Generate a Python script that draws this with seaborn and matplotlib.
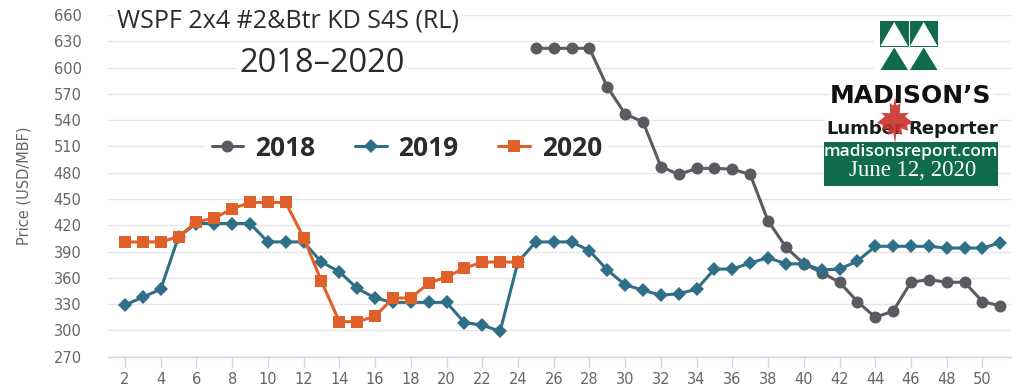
import matplotlib
matplotlib.use("Agg")
import matplotlib.pyplot as plt
from matplotlib.patches import Polygon, Rectangle
import seaborn as sns
import pandas as pd

# weekly prices, USD/MBF
weeks_2018 = list(range(25, 52))
price_2018 = [622, 622, 622, 622, 578, 547, 538, 487, 478, 485, 485, 484, 478,
              425, 395, 376, 366, 355, 333, 315, 322, 355, 358, 355, 355, 333, 328]
weeks_2019 = list(range(2, 52))
price_2019 = [329, 338, 347, 407, 422, 422, 422, 422, 401, 401, 401, 378, 367,
              348, 337, 332, 332, 332, 332, 309, 306, 299, 378, 401, 401, 401,
              391, 369, 352, 346, 340, 342, 347, 370, 370, 377, 383, 376, 376,
              369, 370, 379, 396, 396, 396, 396, 394, 394, 394, 400]
weeks_2020 = list(range(2, 25))
price_2020 = [401, 401, 401, 407, 424, 428, 439, 446, 446, 446, 406, 356, 310,
              310, 316, 337, 337, 354, 361, 371, 378, 378, 378]

x_ticks = list(range(2, 51, 2))
y_ticks = list(range(270, 661, 30))

series = [
    ("2018", weeks_2018, price_2018, "#5a5a61", "o", 8.6),
    ("2019", weeks_2019, price_2019, "#2f6f87", "D", 6.8),
    ("2020", weeks_2020, price_2020, "#e0602a", "s", 9.0),
]

sns.set_theme(style="white")
plt.rcParams['font.family'] = ['DejaVu Sans']

W, H = 1019, 390
fig = plt.figure(figsize=(W / 100, H / 100), dpi=100)
ax = fig.add_axes([108 / W, 1 - 356.7 / H, 903 / W, 341.7 / H])

for name, wk, pr, col, mk, ms in series:
    df = pd.DataFrame({"week": wk, "price": pr})
    sns.lineplot(data=df, x="week", y="price", ax=ax, color=col, marker=mk,
                 markersize=ms, markeredgewidth=0, linewidth=2.2, label=name,
                 legend=False)

ax.set_xlim(1.05, 51.6)
ax.set_ylim(270, 660)
ax.set_xticks(x_ticks)
ax.set_yticks(y_ticks)
ax.grid(axis="y", color="#e6e6e6", linewidth=1)
ax.set_axisbelow(True)
for s in ["top", "right", "left"]:
    ax.spines[s].set_visible(False)
ax.spines["bottom"].set_color("#ccd6eb")
ax.spines["bottom"].set_linewidth(1)
ax.tick_params(axis="x", length=7, width=1, color="#ccd6eb",
               labelcolor="#666666", labelsize=10.5, pad=4, bottom=True)
ax.tick_params(axis="y", length=0, labelsize=10.5, labelcolor="#666666", pad=19)
ax.set_xlabel("")
ax.set_ylabel("Price (USD/MBF)", fontsize=10.5, color="#666666", labelpad=16)

# legend
handles, labels = ax.get_legend_handles_labels()
leg = ax.legend(handles, labels, ncol=3, loc="center left",
                bbox_to_anchor=(205 / W, 1 - 148 / H),
                bbox_transform=fig.transFigure, frameon=True, fancybox=False,
                framealpha=1, edgecolor="none", facecolor="white",
                borderpad=0.25, borderaxespad=0, handlelength=1.2,
                handletextpad=0.45, columnspacing=1.5,
                prop={"family": "Open Sans", "weight": "bold", "size": 19})
for t in leg.get_texts():
    t.set_color("#2b2b2b")

# title
fig.text(117 / W, 1 - 21 / H, "WSPF 2x4 #2&Btr KD S4S (RL)", ha="left",
         va="center", fontsize=18, family="Open Sans", color="#2b2b2b",
         bbox=dict(facecolor="white", edgecolor="none", pad=2))
fig.text(322 / W, 1 - 64 / H, "2018\u20132020", ha="center", va="center",
         fontsize=23.5, family="Open Sans", color="#2b2b2b",
         bbox=dict(facecolor="white", edgecolor="none", pad=2))

# logo, drawn in pixel space on an overlay
ov = fig.add_axes([0, 0, 1, 1], facecolor="none")
ov.set_xlim(0, W)
ov.set_ylim(H, 0)
ov.axis("off")
green = "#0f6b4b"
ov.add_patch(Rectangle((874, 17), 70, 58, facecolor="white", edgecolor="none"))
ov.add_patch(Rectangle((880, 21), 58, 49, facecolor=green, edgecolor="none"))
ov.add_patch(Rectangle((880, 46.5), 58, 23.5, facecolor="white", edgecolor="none"))
for x0 in (880, 909.5):
    ov.add_patch(Polygon([(x0 + 0.5, 46), (x0 + 14.2, 22), (x0 + 28, 46)],
                         facecolor="white", edgecolor="none"))
    ov.add_patch(Polygon([(x0 + 0.5, 70), (x0 + 14.2, 47.5), (x0 + 28, 70)],
                         facecolor=green, edgecolor="none"))
ov.plot([909.2, 909.2], [21, 70], color="white", linewidth=0.8)
ov.plot([880, 938], [46.7, 46.7], color="white", linewidth=0.8)

ov.text(911, 96, "MADISON\u2019S", ha="center", va="center", fontsize=18,
        weight="bold", family="DejaVu Sans", color="#111111",
        bbox=dict(facecolor="white", edgecolor="none", pad=1))
ov.text(826, 129, "Lumber", ha="left", va="center", fontsize=13,
        weight="bold", family="DejaVu Sans", color="#1a1a1a",
        bbox=dict(facecolor="white", edgecolor="none", pad=1))
ov.text(998, 129, "Reporter", ha="right", va="center", fontsize=13,
        weight="bold", family="DejaVu Sans", color="#1a1a1a",
        bbox=dict(facecolor="white", edgecolor="none", pad=1))
leaf = [(0, -1.0), (0.06, -0.55), (0.3, -0.62), (0.26, -0.35), (0.55, -0.45),
        (0.5, -0.22), (0.75, -0.12), (0.42, 0.15), (0.58, 0.3), (0.2, 0.28),
        (0.22, 0.7), (0.06, 0.6), (0.0, 1.0),
        (-0.06, 0.6), (-0.22, 0.7), (-0.2, 0.28), (-0.58, 0.3), (-0.42, 0.15),
        (-0.75, -0.12), (-0.5, -0.22), (-0.55, -0.45), (-0.26, -0.35),
        (-0.3, -0.62), (-0.06, -0.55)]
ov.add_patch(Polygon([(895 + 24 * px, 120 - 24 * py) for px, py in leaf],
                     facecolor="#c8322b", edgecolor="none", alpha=0.9,
                     zorder=5))
ov.add_patch(Rectangle((824, 142), 174, 44, facecolor=green, edgecolor="none"))
ov.text(911, 152, "madisonsreport.com", ha="center", va="center",
        fontsize=12.5, weight="semibold", family="Open Sans", color="white")
ov.text(913, 171, "June 12, 2020", ha="center", va="center", fontsize=16.5,
        family="Liberation Serif", color="white")

fig.savefig("out.png", dpi=100)
